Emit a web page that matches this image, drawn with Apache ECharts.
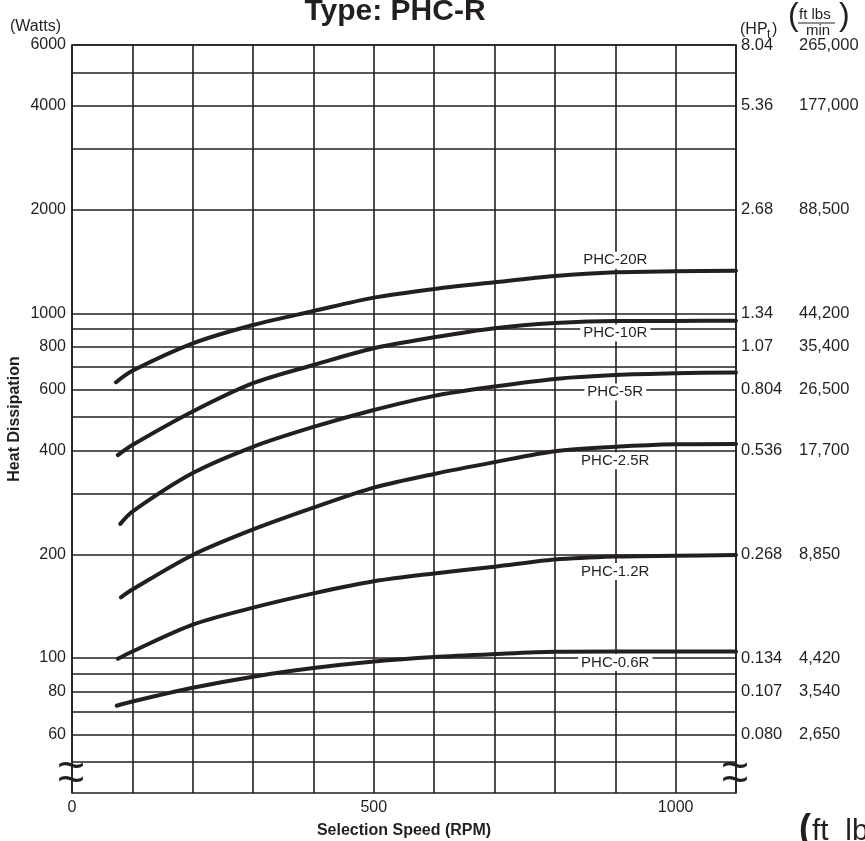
<!DOCTYPE html>
<html>
<head>
<meta charset="utf-8">
<script src="https://cdn.jsdelivr.net/npm/echarts@6/dist/echarts.min.js"></script>
<style>
html,body{margin:0;padding:0;background:#fff;}
#chart{width:865px;height:841px;}
</style>
</head>
<body>
<div id="chart"></div>
<script>
// ---- data (Selection speed in RPM, heat dissipation in watts) ----
const rpm20 = [73, 100, 200, 300, 400, 500, 600, 700, 800, 900, 1000, 1100];
const phc20R = [631, 681, 818, 925, 1015, 1110, 1176, 1230, 1282, 1315, 1324, 1329];
const rpm10 = [76, 100, 200, 300, 400, 500, 600, 700, 800, 900, 1000, 1100];
const phc10R = [388, 415, 519, 627, 708, 792, 852, 905, 937, 950, 950, 952];
const rpm5 = [80, 100, 200, 300, 400, 500, 600, 700, 800, 900, 1000, 1100];
const phc5R = [245, 266, 344, 410, 468, 524, 576, 613, 645, 662, 670, 673];
const rpm2_5 = [81, 100, 200, 300, 400, 500, 600, 700, 800, 900, 1000, 1100];
const phc2_5R = [150, 158, 199, 236, 273, 312, 342, 370, 398, 410, 417, 418];
const rpm1_2 = [76, 100, 200, 300, 400, 500, 600, 700, 800, 900, 1000, 1100];
const phc1_2R = [99.5, 104.5, 125, 140, 154, 167, 176, 184, 193, 197, 198, 199];
const rpm0_6 = [74, 100, 200, 300, 400, 500, 600, 700, 800, 900, 1000, 1100];
const phc0_6R = [72.7, 74.8, 82, 88.3, 93.5, 97.7, 100.7, 102.7, 104.3, 104.5, 104.5, 104.5];

const curveNames = ['PHC-20R', 'PHC-10R', 'PHC-5R', 'PHC-2.5R', 'PHC-1.2R', 'PHC-0.6R'];
const labelRpm = 900;

const gridValues = [50, 60, 70, 80, 90, 100, 200, 300, 400, 500, 600, 700, 800, 900, 1000, 2000, 3000, 4000, 5000, 6000];
const labeledWatts = [6000, 4000, 2000, 1000, 800, 600, 400, 200, 100, 80, 60];
const wattLabels = ['6000', '4000', '2000', '1000', '800', '600', '400', '200', '100', '80', '60'];
const hpLabels = ['8.04', '5.36', '2.68', '1.34', '1.07', '0.804', '0.536', '0.268', '0.134', '0.107', '0.080'];
const ftLbLabels = ['265,000', '177,000', '88,500', '44,200', '35,400', '26,500', '17,700', '8,850', '4,420', '3,540', '2,650'];
const xLabelValues = [0, 500, 1000];

// ---- chart ----
const INK = '#231f20';
const FONT = "'Liberation Sans', Arial, Helvetica, sans-serif";
const chart = echarts.init(document.getElementById('chart'), null, {renderer: 'canvas'});

const curves = [
  {x: rpm20, y: phc20R, pos: 'top', dist: 3},
  {x: rpm10, y: phc10R, pos: 'bottom', dist: 3},
  {x: rpm5, y: phc5R, pos: 'bottom', dist: 8},
  {x: rpm2_5, y: phc2_5R, pos: 'bottom', dist: 5},
  {x: rpm1_2, y: phc1_2R, pos: 'bottom', dist: 6},
  {x: rpm0_6, y: phc0_6R, pos: 'bottom', dist: 2}
];

const curveSeries = curves.map((c, i) => {
  const idx = c.x.indexOf(labelRpm);
  return {
    type: 'line',
    name: curveNames[i],
    z: 5,
    data: c.x.map((v, k) => [v, c.y[k]]),
    showSymbol: false,
    smooth: 0.3,
    lineStyle: {color: INK, width: 4, cap: 'round', join: 'round'},
    itemStyle: {color: INK},
    markPoint: {
      symbol: 'circle',
      symbolSize: 1,
      itemStyle: {color: 'rgba(0,0,0,0)'},
      silent: true,
      data: [{
        coord: [labelRpm, c.y[idx]],
        label: {
          show: true,
          position: c.pos,
          distance: c.dist,
          formatter: curveNames[i],
          color: INK,
          fontFamily: FONT,
          fontSize: 15,
          lineHeight: 17,
          backgroundColor: '#fff',
          padding: [0, 3, 0, 3]
        }
      }]
    }
  };
});

const gridLineSeries = {
  type: 'line',
  data: [],
  z: 1,
  markLine: {
    silent: true,
    symbol: ['none', 'none'],
    lineStyle: {color: INK, width: 1.6, type: 'solid'},
    label: {show: false},
    data: gridValues.map(v => {
      const li = labeledWatts.indexOf(v);
      return {
        yAxis: v,
        label: li >= 0 ? {
          show: true, position: 'start', distance: 6,
          formatter: wattLabels[li], color: INK, fontFamily: FONT, fontSize: 16
        } : {show: false}
      };
    })
  }
};

const rightLabelSeries = {
  type: 'line',
  data: [],
  z: 1,
  markLine: {
    silent: true,
    symbol: ['none', 'none'],
    lineStyle: {color: 'rgba(0,0,0,0)', width: 1, type: 'solid'},
    data: labeledWatts.map((v, i) => ({
      yAxis: v,
      label: {
        show: true, position: 'end', distance: 5,
        formatter: '{a|' + hpLabels[i] + '}{b|' + ftLbLabels[i] + '}',
        color: INK, fontFamily: FONT, fontSize: 16,
        rich: {
          a: {width: 58, color: INK, fontFamily: FONT, fontSize: 16.5},
          b: {color: INK, fontFamily: FONT, fontSize: 16.5}
        }
      }
    }))
  }
};

const option = {
  animation: false,
  backgroundColor: '#fff',
  grid: {
    left: 72, right: 129, top: 45, bottom: 48,
    containLabel: false, outerBoundsMode: 'none',
    show: true, borderColor: INK, borderWidth: 1.6, backgroundColor: 'transparent'
  },
  xAxis: {
    type: 'value', min: 0, max: 1100, interval: 100,
    axisLine: {show: false},
    axisTick: {show: false},
    splitLine: {show: true, lineStyle: {color: INK, width: 1.6}},
    axisLabel: {
      margin: 7, color: INK, fontFamily: FONT, fontSize: 16,
      formatter: v => (xLabelValues.indexOf(v) >= 0 ? String(v) : '')
    },
    name: 'Selection Speed (RPM)', nameLocation: 'middle', nameGap: 30,
    nameTextStyle: {color: INK, fontFamily: FONT, fontSize: 16, fontWeight: 'bold'}
  },
  yAxis: {
    type: 'log', logBase: 10, min: 40.6, max: 6000,
    axisLine: {show: false}, axisTick: {show: false}, splitLine: {show: false},
    axisLabel: {show: false},
    name: 'Heat Dissipation', nameLocation: 'middle', nameGap: 49,
    nameTextStyle: {color: INK, fontFamily: FONT, fontSize: 16, fontWeight: 'bold'}
  },
  graphic: [
    {type: 'text', x: 395, y: -3, style: {text: 'Type: PHC-R', fill: INK, font: "bold 30px " + FONT, textAlign: 'center'}},
    {type: 'text', x: 10, y: 19, style: {text: '(Watts)', fill: INK, font: "16px " + FONT}},
    {type: 'text', x: 740, y: 22, style: {text: '(HP', fill: INK, font: "16px " + FONT}},
    {type: 'text', x: 767, y: 29, style: {text: 't', fill: INK, font: "12px " + FONT}},
    {type: 'text', x: 772, y: 22, style: {text: ')', fill: INK, font: "16px " + FONT}},
    {type: 'text', x: 788, y: 0, style: {text: '(', fill: INK, font: "32px " + FONT}},
    {type: 'text', x: 799, y: 7, style: {text: 'ft lbs', fill: INK, font: "15px " + FONT}},
    {type: 'line', shape: {x1: 798, y1: 23, x2: 835, y2: 23}, style: {stroke: INK, lineWidth: 1}},
    {type: 'text', x: 806, y: 23, style: {text: 'min', fill: INK, font: "15px " + FONT}},
    {type: 'text', x: 839, y: 0, style: {text: ')', fill: INK, font: "32px " + FONT}},
    {type: 'text', x: 57, y: 744, style: {text: '~', fill: INK, font: "48px " + FONT}},
    {type: 'text', x: 57, y: 758, style: {text: '~', fill: INK, font: "48px " + FONT}},
    {type: 'text', x: 721, y: 744, style: {text: '~', fill: INK, font: "48px " + FONT}},
    {type: 'text', x: 721, y: 758, style: {text: '~', fill: INK, font: "48px " + FONT}},
    {type: 'text', x: 799, y: 812, style: {text: '(', fill: INK, font: "bold 36px " + FONT}},
    {type: 'text', x: 812, y: 817, style: {text: 'ft  lbs', fill: INK, font: "30px " + FONT}}
  ],
  series: [gridLineSeries, rightLabelSeries].concat(curveSeries)
};
chart.setOption(option);
</script>
</body>
</html>
